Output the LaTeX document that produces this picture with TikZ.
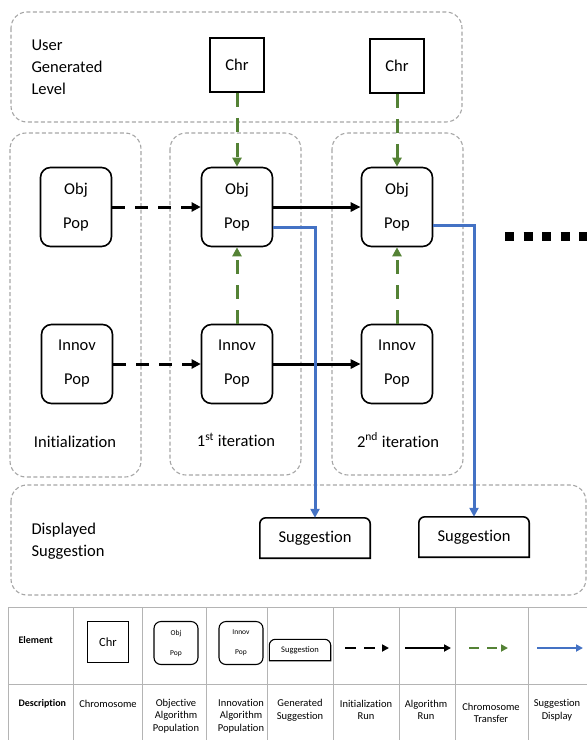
\documentclass[tikz,border=0pt]{standalone}
\usepackage{fontspec}
\setmainfont{Carlito}[Ligatures={NoCommon}]
\usetikzlibrary{arrows.meta}
\definecolor{chrgreen}{HTML}{548235}
\definecolor{sugblue}{HTML}{4472C4}
\definecolor{framegray}{HTML}{A6A6A6}
\definecolor{tablegray}{HTML}{B4B4B4}

\begin{document}
\begin{tikzpicture}[x=1pt, y=-1pt, font={\fontsize{16.5pt}{19pt}\selectfont}]
\newcommand{\popgap}{15pt}
\newcommand{\sugframe}[2]{\draw[line width=#2] (#1.south west) [rounded corners=6pt] -- (#1.north west) -- (#1.north east) [sharp corners] -- (#1.south east) -- cycle;}

\tikzset{ levelbox/.style={draw=framegray, line width=1.1pt, dash
    pattern=on 4pt off 2.5pt, rounded corners=16pt},
  chrbox/.style={draw, line width=1.6pt, minimum width=54pt, minimum height=54pt},
  popbox/.style={draw, line width=1.6pt, rounded corners=10pt,
    minimum width=71pt, minimum height=79pt, align=center},
  sugbox/.style={minimum width=110pt, minimum height=40pt},
  lefttext/.style={align=left, anchor=west, font={\fontsize{16.5pt}{22pt}\selectfont}},
  initrun/.style={-{Triangle[length=9pt,width=9pt]}, line width=3pt, dash pattern=on 13pt off 10pt},
  algrun/.style={-{Triangle[length=10pt,width=9pt]}, line width=3pt},
  chrtrans/.style={-{Triangle[length=9pt,width=9pt]}, draw=chrgreen, line width=3pt, dash pattern=on 14pt off 11pt},
  sugdisp/.style={-{Triangle[length=9pt,width=9pt]}, draw=sugblue, line width=3pt},
  tableline/.style={draw=tablegray, line width=1pt},
  desc/.style={align=center, font={\fontsize{10.5pt}{12.5pt}\selectfont}}
}

\useasboundingbox (0,0) rectangle (587,740);

\draw[levelbox] (11,12) rectangle (462,122);
\draw[levelbox] (10,133) rectangle (141,477);
\draw[levelbox] (170,133) rectangle (301,475);
\draw[levelbox] (332,133) rectangle (463,475);
\draw[levelbox] (11,485) rectangle (586,595);

\node[lefttext] (userlvl) at (28,67) {User\\Generated\\Level};
\node[lefttext] (displvl) at (28,541) {Displayed\\Suggestion};

\node (chr1) at (237,65) [chrbox]{Chr};
\node (chr2) at (397,66) [chrbox]{Chr};

\node (obj0) at (76,207) [popbox]{Obj\\[\popgap]Pop};
\node (obj1) at (237,207) [popbox]{Obj\\[\popgap]Pop};
\node (obj2) at (397,207) [popbox]{Obj\\[\popgap]Pop};
\node (innov0) at (77,364) [popbox]{Innov\\[\popgap]Pop};
\node (innov1) at (237,364) [popbox]{Innov\\[\popgap]Pop};
\node (innov2) at (397,364) [popbox]{Innov\\[\popgap]Pop};

\node (lbl0) at (75,442) {Initialization};
\node (lbl1) at (236,440) {1\textsuperscript{st} iteration};
\node (lbl2) at (398,440) {2\textsuperscript{nd} iteration};

\node (sug1) at (315,538) [sugbox]{Suggestion};
\node (sug2) at (474,537) [sugbox]{Suggestion};
\sugframe{sug1}{1.6pt}
\sugframe{sug2}{1.6pt}

\draw[chrtrans] (chr1) -- (obj1);
\draw[chrtrans] (chr2) -- (obj2);
\draw[chrtrans] (innov1) -- (obj1);
\draw[chrtrans] (innov2) -- (obj2);
\draw[initrun] (obj0) -- (obj1);
\draw[initrun] (innov0) -- (innov1);
\draw[algrun] (obj1) -- (obj2);
\draw[algrun] (innov1) -- (innov2);
\draw[sugdisp] ([yshift=-20pt]obj1.east) -| (sug1);
\draw[sugdisp] ([yshift=-18pt]obj2.east) -| (sug2);

\draw[line width=9pt, dash pattern=on 9pt off 9.5pt] (505,236) -- (587,236);

\draw[tableline] (8,607) -- (587,607);
\draw[tableline] (8,684) -- (587,684);
\foreach \cx in {8,73,142,206,267,333,399,455,528}
  \draw[tableline] (\cx,607) -- (\cx,740);

\node[anchor=west, font={\fontsize{10pt}{12pt}\bfseries}] (elemhd) at (15,640) {Element};
\node[anchor=west, font={\fontsize{10pt}{12pt}\bfseries}] (deschd) at (15,704) {Description};

\node (legchr) at (108,642) [chrbox, minimum width=41pt, minimum height=41pt,
  line width=1.2pt, font={\fontsize{12.5pt}{15pt}\selectfont}]{Chr};
\node (legobj) at (176,643) [popbox, minimum width=44pt, minimum height=43pt,
  rounded corners=7pt, line width=1.1pt, font={\fontsize{7.5pt}{9pt}\selectfont}]{Obj\\[11pt]Pop};
\node (leginnov) at (241,643) [popbox, minimum width=44pt, minimum height=43pt,
  rounded corners=7pt, line width=1.1pt, font={\fontsize{7.5pt}{9pt}\selectfont}]{Innov\\[11pt]Pop};
\node (legsug) at (300,650) [sugbox, minimum width=61pt, minimum height=21pt,
  font={\fontsize{8.5pt}{10pt}\selectfont}]{Suggestion};
\sugframe{legsug}{1.1pt}

\coordinate (legira) at (345,648);
\coordinate (legirb) at (389,648);
\coordinate (legara) at (405,648);
\coordinate (legarb) at (451,648);
\coordinate (legcta) at (469,648);
\coordinate (legctb) at (508,648);
\coordinate (legsda) at (537,648);
\coordinate (legsdb) at (583,648);
\draw[initrun, -{Triangle[length=7pt,width=7pt]}, line width=2.5pt, dash pattern=on 11pt off 8pt] (legira) -- (legirb);
\draw[algrun, -{Triangle[length=7pt,width=7pt]}, line width=2.5pt] (legara) -- (legarb);
\draw[chrtrans, -{Triangle[length=7pt,width=7pt]}, line width=2.5pt, dash pattern=on 10pt off 8pt] (legcta) -- (legctb);
\draw[sugdisp, -{Triangle[length=7pt,width=7pt]}, line width=2.5pt] (legsda) -- (legsdb);

\node[desc] (dchr) at (108,704) {Chromosome};
\node[desc] (dobj) at (176,716) {Objective\\Algorithm\\Population};
\node[desc] (dinnov) at (241,716) {Innovation\\Algorithm\\Population};
\node[desc] (dsug) at (300,710) {Generated\\Suggestion};
\node[desc] (dinit) at (366,710) {Initialization\\Run};
\node[desc] (dalg) at (426,710) {Algorithm\\Run};
\node[desc] (dtrans) at (491,713) {Chromosome\\Transfer};
\node[desc] (ddisp) at (557,710) {Suggestion\\Display};

\end{tikzpicture}
\end{document}
